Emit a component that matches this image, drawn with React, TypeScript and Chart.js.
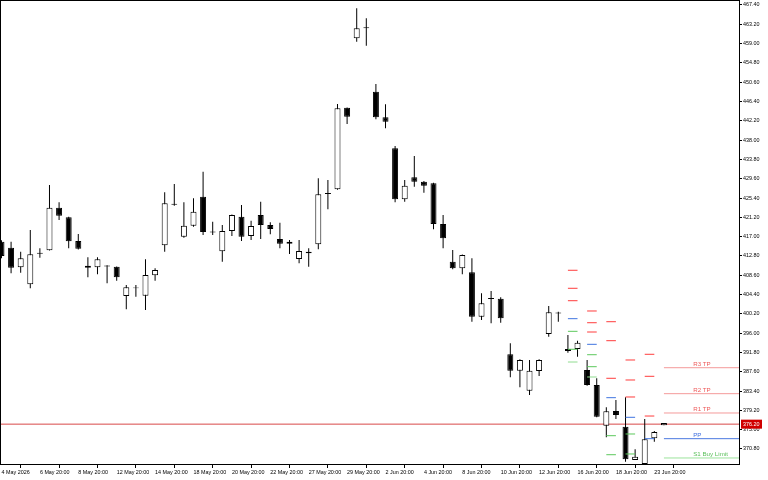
import React, { useEffect, useRef } from 'react';
import { Chart, registerables } from 'chart.js';

Chart.register(...registerables);

// ---- candle data (H12 bars) ----
const opens = [
  415.9, 414.59, 410.33, 406.63, 413.5, 414.03, 423.3, 421.21, 416.05, 410.68,
  410.33, 410.7, 410.46, 404.08, 405.95, 404.15, 408.59, 415.12, 424.15, 416.99,
  419.38, 425.69, 418.1, 413.81, 418.23, 421.34, 417.14, 421.71, 419.53, 416.49,
  415.46, 412.13, 413.72, 415.33, 426.5, 427.3, 445.05, 460.15, 462.55, 448.54,
  442.97, 436.22, 425.12, 429.91, 428.95, 428.61, 419.75, 411.55, 410.11, 409.24,
  399.58, 403.65, 403.5, 391.4, 387.83, 383.48, 387.77, 395.82, 400.5, 392.12,
  392.55, 387.98, 384.72, 375.86, 379.06, 375.65, 368.4, 367.53, 373.12, 375.95,
];
const highs = [
  416.2, 415.9, 413.72, 418.44, 414.46, 428.24, 424.47, 421.3, 417.57, 412.5,
  412.5, 410.75, 410.5, 406.48, 406.48, 412.07, 410.11, 426.65, 428.45, 424.47,
  425.34, 431.13, 420.25, 419.53, 421.8, 423.88, 420.47, 424.6, 420.12, 420.03,
  416.27, 416.27, 414.46, 429.69, 429.32, 445.86, 445.1, 466.68, 464.51, 450.21,
  445.79, 436.72, 429.32, 434.55, 429.1, 428.7, 421.71, 414.09, 413.1, 412.29,
  404.67, 405.17, 403.8, 393.79, 390.3, 390.16, 390.3, 401.91, 400.67, 395.6,
  394.36, 390.16, 386.18, 379.87, 381.46, 382.04, 370.73, 377.32, 374.71, 376.45,
];
const lows = [
  412.3, 409.02, 409.15, 405.76, 412.42, 414.0, 420.62, 414.46, 414.2, 408.15,
  408.81, 406.85, 407.41, 401.19, 403.93, 401.04, 407.41, 413.72, 423.73, 416.77,
  419.16, 417.36, 417.36, 411.55, 417.14, 416.05, 416.27, 416.49, 417.51, 414.46,
  413.22, 411.2, 410.46, 414.24, 422.95, 427.2, 441.51, 459.41, 458.54, 442.53,
  440.57, 424.47, 424.6, 427.87, 426.56, 418.6, 414.46, 409.89, 408.81, 398.49,
  398.86, 398.14, 398.28, 386.4, 384.22, 382.54, 386.68, 395.23, 398.49, 391.75,
  390.88, 384.57, 377.7, 373.34, 377.32, 368.03, 368.4, 367.5, 372.38, 375.95,
];
const closes = [
  412.8, 410.24, 412.29, 413.16, 413.3, 423.3, 421.56, 415.99, 414.38, 410.24,
  412.07, 410.5, 408.15, 405.98, 405.75, 408.65, 409.74, 424.25, 423.95, 419.38,
  422.43, 418.01, 417.9, 418.23, 421.71, 416.99, 419.31, 419.53, 418.66, 415.46,
  415.9, 413.88, 413.38, 426.21, 426.3, 444.92, 443.1, 462.33, 462.35, 442.97,
  442.01, 425.12, 428.08, 428.95, 428.08, 419.75, 416.64, 410.11, 413.0, 399.58,
  402.5, 403.45, 399.23, 387.83, 390.16, 387.83, 390.16, 400.54, 400.3, 392.55,
  393.92, 384.72, 377.82, 379.0, 378.19, 368.55, 369.12, 372.91, 374.49, 376.45,
];

// ---- axis ticks ----
const xTickBars = [0, 4, 8, 12, 16, 20, 24, 28, 32, 36, 40, 44, 48, 52, 56, 60, 64, 68];
const xTickLabels = [
  '4 May 2026', '6 May 20:00', '8 May 20:00', '12 May 20:00', '14 May 20:00', '18 May 20:00',
  '20 May 20:00', '22 May 20:00', '27 May 20:00', '29 May 20:00', '2 Jun 20:00', '4 Jun 20:00',
  '8 Jun 20:00', '10 Jun 20:00', '12 Jun 20:00', '16 Jun 20:00', '18 Jun 20:00', '23 Jun 20:00',
];
const yTickValues = [
  467.4, 463.2, 459.0, 454.8, 450.6, 446.4, 442.2, 438.0, 433.8, 429.6, 425.4, 421.2,
  417.0, 412.8, 408.6, 404.4, 400.2, 396.0, 391.8, 387.6, 383.4, 379.2, 375.0, 370.8,
];

// ---- daily pivot levels (drawn over each day's two bars) ----
const pivotBars = [59, 61, 63, 65, 67];
const r3Levels = [409.68, 400.82, 398.49, 390.16, 391.4];
const r2Levels = [405.76, 398.27, 394.36, 385.81, 386.61];
const r1Levels = [403.06, 396.25, 386.18, 382.11, 377.97];
const ppLevels = [399.15, 393.57, 381.96, 377.69, 373.04];
const s1Levels = [396.4, 391.31, 373.69, 374.06, null];
const s2Levels = [392.49, 388.7, 369.55, 369.71, null];
const s3Levels = [389.72, 386.46, null, null, null];

// ---- current level lines ----
const levelNames = ['R3 TP', 'R2 TP', 'R1 TP', 'PP', 'S1 Buy Limit'];
const levelValues = [388.48, 382.83, 378.63, 373.04, 368.84];
const levelStartBar = 69;
const bidPrice = 376.2;

// ---- styling ----
const X_MIN = -0.05;
const X_MAX = 76.82;
const Y_MIN = 367.53;
const Y_MAX = 468.27;
const LABEL_X = 72.05;
const R_COLOR = '#ff3c3c';
const PP_COLOR = '#3f74e0';
const S_COLOR = '#5cc85c';
const S3_COLOR = '#90dc90';
const levelLineColors = ['#f49a9a', '#f49a9a', '#f49a9a', '#4a78e0', '#9be39b'];
const levelTextColors = ['#ee5a5a', '#ee5a5a', '#ee5a5a', '#4070e0', '#5cc05c'];
const FONT = 'Liberation Sans';

function segments(levels: (number | null)[]) {
  const out: { x: number; y: number | null }[] = [];
  levels.forEach((v, k) => {
    if (v == null) return;
    const b = pivotBars[k];
    out.push({ x: b, y: v }, { x: b + 1, y: v }, { x: b + 1.5, y: null });
  });
  return out;
}

const framePlugin = {
  id: 'frame',
  afterDatasetsDraw(chart: any) {
    const { ctx, scales } = chart;
    const xs = scales.x;
    const ys = scales.y;
    ctx.save();
    ctx.font = `6.2px "${FONT}"`;
    ctx.textAlign = 'left';
    ctx.textBaseline = 'alphabetic';
    levelNames.forEach((name, k) => {
      ctx.fillStyle = levelTextColors[k];
      ctx.fillText(name, xs.getPixelForValue(LABEL_X), ys.getPixelForValue(levelValues[k]) - 2);
    });
    ctx.restore();
  },
  afterDraw(chart: any) {
    const { ctx, chartArea: a, scales } = chart;
    ctx.save();
    ctx.strokeStyle = '#000';
    ctx.lineWidth = 1;
    ctx.strokeRect(a.left - 0.5, a.top - 0.5, a.right - a.left + 1, a.bottom - a.top + 1);
    const y = scales.y.getPixelForValue(bidPrice);
    ctx.fillStyle = '#d00000';
    ctx.fillRect(a.right + 2, y - 4.5, 21, 9);
    ctx.fillStyle = '#fff';
    ctx.font = `5.4px "${FONT}"`;
    ctx.textAlign = 'left';
    ctx.textBaseline = 'middle';
    ctx.fillText(bidPrice.toFixed(2), a.right + 4, y + 0.5);
    ctx.restore();
  },
};

export default function App() {
  const ref = useRef<HTMLCanvasElement>(null);
  useEffect(() => {
    document.body.style.margin = '0';
    const idx = opens.map((_, i) => i);
    const bodyData = idx.map((i) => ({ x: i, y: [opens[i], closes[i]] }));
    const wickData = idx.map((i) => ({ x: i, y: [lows[i], highs[i]] }));
    const bodyFill = idx.map((i) => (closes[i] >= opens[i] ? '#ffffff' : '#000000'));

    const lineBase = {
      type: 'line' as const,
      pointRadius: 0,
      borderWidth: 1,
      fill: false,
      spanGaps: false,
      tension: 0,
      order: 0,
    };

    const datasets: any[] = [
      {
        type: 'bar',
        data: bodyData,
        backgroundColor: bodyFill,
        borderColor: '#000',
        borderWidth: 1,
        borderSkipped: false,
        barThickness: 6,
        grouped: false,
        inflateAmount: 0,
        order: 1,
      },
      {
        type: 'bar',
        data: wickData,
        backgroundColor: '#000',
        borderWidth: 0,
        barThickness: 1,
        grouped: false,
        inflateAmount: 0,
        order: 2,
      },
      { ...lineBase, data: [{ x: X_MIN, y: bidPrice }, { x: X_MAX, y: bidPrice }], borderColor: '#d84848', order: 3 },
      { ...lineBase, data: segments(r3Levels), borderColor: R_COLOR },
      { ...lineBase, data: segments(r2Levels), borderColor: R_COLOR },
      { ...lineBase, data: segments(r1Levels), borderColor: R_COLOR },
      { ...lineBase, data: segments(ppLevels), borderColor: PP_COLOR },
      { ...lineBase, data: segments(s1Levels), borderColor: S_COLOR },
      { ...lineBase, data: segments(s2Levels), borderColor: S_COLOR },
      { ...lineBase, data: segments(s3Levels), borderColor: S3_COLOR },
      ...levelValues.map((v, k) => ({
        ...lineBase,
        data: [{ x: levelStartBar, y: v }, { x: X_MAX, y: v }],
        borderColor: levelLineColors[k],
      })),
    ];

    const chart = new Chart(ref.current as HTMLCanvasElement, {
      type: 'bar',
      data: { datasets },
      options: {
        animation: false,
        responsive: false,
        maintainAspectRatio: false,
        events: [],
        layout: { padding: { top: 1, left: 1, right: 0, bottom: 0 } },
        plugins: { legend: { display: false }, tooltip: { enabled: false } },
        scales: {
          x: {
            type: 'linear',
            min: X_MIN,
            max: X_MAX,
            offset: false,
            border: { display: false },
            grid: { display: true, drawOnChartArea: false, drawTicks: true, tickLength: 4, color: '#000', lineWidth: 1 },
            ticks: {
              autoSkip: false,
              maxRotation: 0,
              minRotation: 0,
              align: 'start',
              padding: 1,
              color: '#000',
              font: { family: FONT, size: 5.4 },
              callback: (_v: any, i: number) => xTickLabels[i],
            },
            afterBuildTicks: (s: any) => {
              s.ticks = xTickBars.map((b) => ({ value: b }));
            },
            afterFit: (s: any) => {
              s.height = 16;
              s.paddingLeft = 0;
              s.paddingRight = 0;
            },
          },
          y: {
            type: 'linear',
            position: 'right',
            min: Y_MIN,
            max: Y_MAX,
            border: { display: false },
            grid: { display: true, drawOnChartArea: false, drawTicks: true, tickLength: 3, color: '#000', lineWidth: 1 },
            ticks: {
              autoSkip: false,
              padding: 1,
              color: '#000',
              font: { family: FONT, size: 5.4 },
              callback: (v: any) => Number(v).toFixed(2),
            },
            afterBuildTicks: (s: any) => {
              s.ticks = yTickValues.map((v) => ({ value: v }));
            },
            afterFit: (s: any) => {
              s.width = 29;
              s.paddingTop = 0;
              s.paddingBottom = 0;
            },
          },
        },
      } as any,
      plugins: [framePlugin],
    });
    return () => chart.destroy();
  }, []);

  return (
    <div style={{ position: 'fixed', left: 0, top: 0, width: 768, height: 480, background: '#fff' }}>
      <canvas ref={ref} width={768} height={480} style={{ display: 'block', width: 768, height: 480 }} />
    </div>
  );
}
